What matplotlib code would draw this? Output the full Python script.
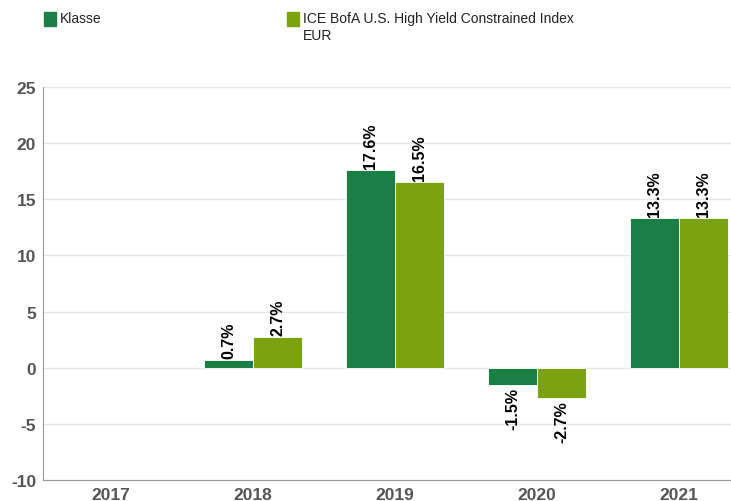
import numpy as np
import matplotlib.pyplot as plt

years = ["2017", "2018", "2019", "2020", "2021"]
klasse = [np.nan, 0.7, 17.6, -1.5, 13.3]
index_vals = [np.nan, 2.7, 16.5, -2.7, 13.3]
series_names = ["Klasse", "ICE BofA U.S. High Yield Constrained Index\nEUR"]
colors = ["#1a7f45", "#7aa30f"]

plt.rcParams['font.family'] = ['Liberation Sans', 'DejaVu Sans']
plt.rcParams['axes.unicode_minus'] = False

fig = plt.figure(figsize=(7.31, 5.02), dpi=100)
ax = fig.add_axes([43 / 731, 1 - 481 / 502, 1 - 43 / 731, (481 - 88) / 502])

x = np.arange(len(years))
w = 0.345
for i, (vals, c) in enumerate(zip([klasse, index_vals], colors)):
    pos = x + (i - 0.5) * w
    ax.bar(pos, vals, width=w, color=c, edgecolor="white", linewidth=0.6, zorder=3)
    for px, v in zip(pos, vals):
        if np.isnan(v):
            continue
        off = 0.2 if v >= 0 else -0.2
        ax.text(px, v + off, f"{v:.1f}%", rotation=90, ha="center",
                va="bottom" if v >= 0 else "top", fontsize=11.5,
                fontweight="bold", color="black")

ax.set_ylim(-10, 25)
ax.set_yticks(range(-10, 30, 5))
ax.set_xlim(-0.479, 4.366)
ax.set_xticks(x)
ax.set_xticklabels(years)
ax.grid(axis="y", color="#e6e6e6", linewidth=1, zorder=0)
for s in ["top", "right"]:
    ax.spines[s].set_visible(False)
for s in ["left", "bottom"]:
    ax.spines[s].set_color("#999999")
ax.tick_params(length=0, labelsize=12.5, labelcolor="#555555", pad=5)
for lab in ax.get_xticklabels() + ax.get_yticklabels():
    lab.set_fontweight("bold")

# legend
for (lx, name, c) in [(44, series_names[0], colors[0]), (287, series_names[1], colors[1])]:
    fig.patches.append(plt.Rectangle((lx / 731, 1 - 27 / 502), 12 / 731, 14 / 502,
                                     transform=fig.transFigure, color=c))
    fig.text((lx + 16) / 731, 1 - 12 / 502, name, ha="left", va="top",
             fontsize=10, color="#222222", linespacing=1.25)

fig.savefig("out.png", dpi=100)
